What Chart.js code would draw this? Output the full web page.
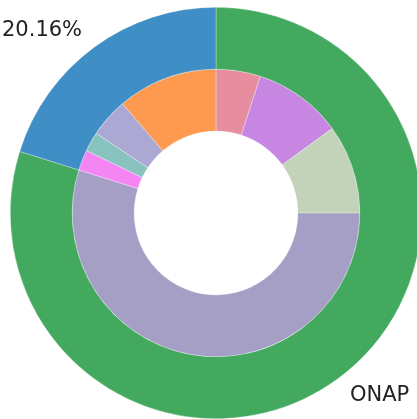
<!DOCTYPE html>
<html>
<head>
<meta charset="utf-8">
<script src="https://cdn.jsdelivr.net/npm/chart.js@4"></script>
<style>
  html, body { margin: 0; padding: 0; background: #fff; overflow: hidden; }
  #wrap { width: 417px; height: 419px; overflow: hidden; position: relative; }
  #chart { position: absolute; left: 0; top: 0; }
</style>
</head>
<body>
<div id="wrap"><canvas id="chart" width="440" height="440"></canvas></div>
<script>
// Outer ring
const outerLabels = ["ONAP", "20.16%"];
const outerValues = [79.84, 20.16];
const outerColors = ["#43a95f", "#3f8ec5"];

// Inner ring (splits of the outer ring)
const innerValues = [5.0, 10.0, 10.0, 54.84, 2.3, 2.2, 4.4, 11.26];
const innerColors = ["#e68e9f", "#c686e2", "#c2d3b9", "#a59fc6",
                     "#f685f4", "#88c3bf", "#aba8d4", "#fd9a4f"];

// matplotlib-style labels just outside the outer ring
const outerLabelPlugin = {
  id: "outerLabels",
  afterDraw(chart) {
    const meta = chart.getDatasetMeta(0);
    const ctx = chart.ctx;
    ctx.save();
    ctx.font = "21px 'DejaVu Sans'";
    ctx.fillStyle = "#222";
    ctx.textBaseline = "middle";
    meta.data.forEach((arc, i) => {
      const mid = (arc.startAngle + arc.endAngle) / 2;
      const r = arc.outerRadius * 1.1;
      const x = arc.x + Math.cos(mid) * r;
      const y = arc.y + Math.sin(mid) * r;
      ctx.textAlign = Math.cos(mid) >= 0 ? "left" : "right";
      ctx.fillText(outerLabels[i], x, y);
    });
    ctx.restore();
  },
};

new Chart(document.getElementById("chart"), {
  type: "doughnut",
  data: {
    labels: outerLabels,
    datasets: [
      {
        data: outerValues,
        backgroundColor: outerColors,
        borderColor: "rgba(255,255,255,0.6)",
        borderWidth: 0.5,
      },
      {
        data: innerValues,
        backgroundColor: innerColors,
        borderColor: "rgba(255,255,255,0.6)",
        borderWidth: 0.5,
      },
    ],
  },
  options: {
    responsive: false,
    animation: false,
    cutout: "39.8%",
    layout: { padding: { left: 10, top: 7, right: 18, bottom: 21 } },
    plugins: {
      legend: { display: false },
      tooltip: { enabled: false },
    },
  },
  plugins: [outerLabelPlugin],
});
</script>
</body>
</html>
